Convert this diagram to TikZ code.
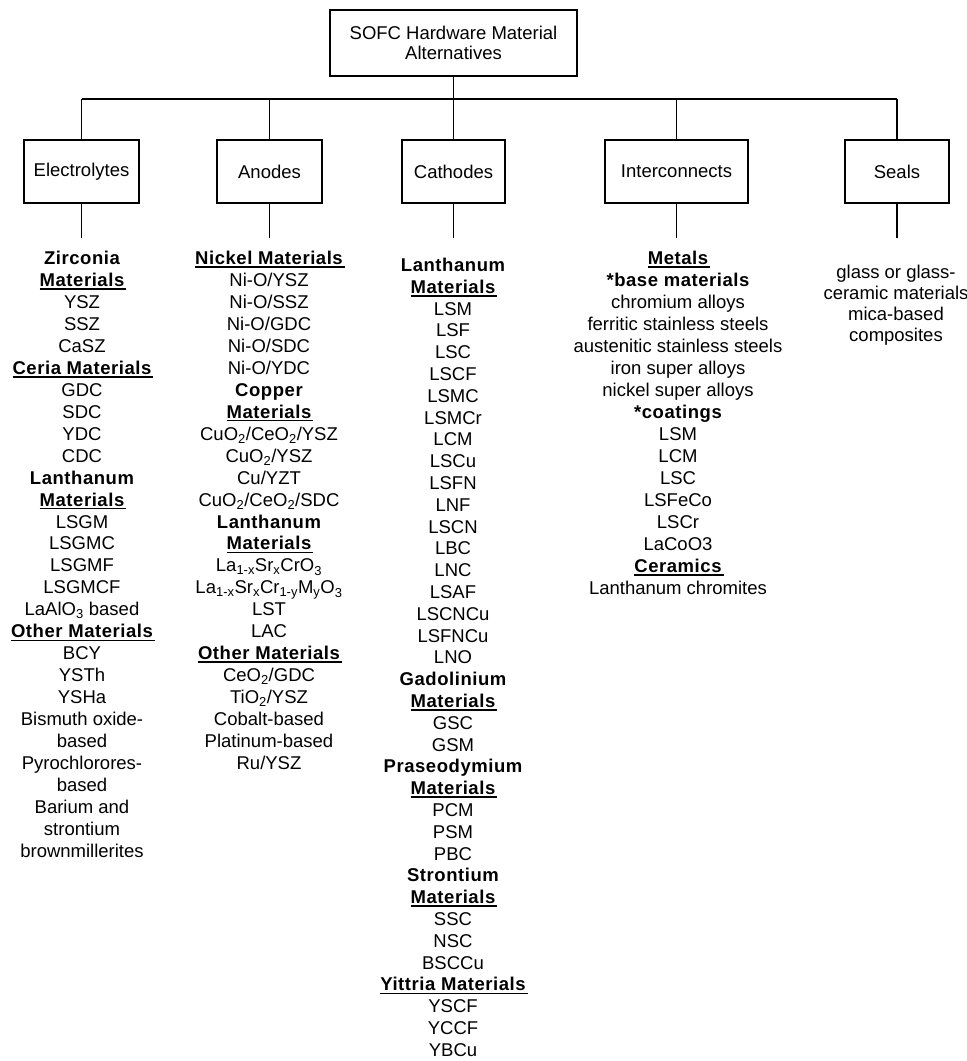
\documentclass[tikz,border=0pt]{standalone}
\usepackage{fontspec}
\setmainfont{Liberation Sans}
\newfontfamily\hdfont{Liberation Sans}[LetterSpace=3]
\newcommand\hb[1]{{\hdfont\bfseries #1}}
\newcommand\hu[1]{\setbox0\hbox{\hdfont\bfseries #1}\rlap{\rule[-3.2pt]{\dimexpr\wd0+2pt\relax}{1.5pt}}\box0}
\newcommand\sub[1]{\textsubscript{#1}}
\begin{document}
\begin{tikzpicture}[x=1pt,y=-1pt,line width=1.5pt,
  every node/.style={font=\fontsize{18.5}{20}\selectfont},
  box/.style={draw,inner sep=0pt,align=center},
  catbox/.style={box,minimum height=63pt},
  item/.style={anchor=base,inner sep=0pt}]
\useasboundingbox (0,0) rectangle (967,1061);

\node[box,minimum width=247pt,minimum height=66pt] (top) at (453.5,43) {SOFC Hardware Material\\Alternatives};

\node[catbox,minimum width=115pt] (elec)  at (81.5,171.5) {Electrolytes};
\node[catbox,minimum width=105pt] (anod)  at (269.5,171.5) {Anodes};
\node[catbox,minimum width=103pt] (cath)  at (453.5,171.5) {Cathodes};
\node[catbox,minimum width=143pt] (inter) at (676.5,171.5) {Interconnects};
\node[catbox,minimum width=104pt] (seals) at (897,171.5) {Seals};

\coordinate (bar) at (453.5,99);
\coordinate (stemend) at (0,238);
\draw (top.south) -- (top.south |- bar);
\draw (elec.north |- bar) -- (seals.north |- bar);
\foreach \n in {elec,anod,cath,inter,seals}{
  \draw (\n.north |- bar) -- (\n.north);
  \draw (\n.south) -- (\n.south |- stemend);
}

% Electrolytes
\foreach \t [count=\i from 0] in {\hb{Zirconia},\hu{Materials},YSZ,SSZ,CaSZ,\hu{Ceria Materials},GDC,SDC,YDC,CDC,\hb{Lanthanum},\hu{Materials},LSGM,LSGMC,LSGMF,LSGMCF,LaAlO\sub{3} based,\hu{Other Materials},BCY,YSTh,YSHa,Bismuth oxide-,based,Pyrochlorores-,based,Barium and,strontium,brownmillerites}
  \node[item] (el\i) at ({82},{264.5+\i*21.96}) {\t};

% Anodes
\foreach \t [count=\i from 0] in {\hu{Nickel Materials},Ni-O/YSZ,Ni-O/SSZ,Ni-O/GDC,Ni-O/SDC,Ni-O/YDC,\hb{Copper},\hu{Materials},CuO\sub{2}/CeO\sub{2}/YSZ,CuO\sub{2}/YSZ,Cu/YZT,CuO\sub{2}/CeO\sub{2}/SDC,\hb{Lanthanum},\hu{Materials},La\sub{1-x}Sr\sub{x}CrO\sub{3},La\sub{1-x}Sr\sub{x}Cr\sub{1-y}M\sub{y}O\sub{3},LST,LAC,\hu{Other Materials},CeO\sub{2}/GDC,TiO\sub{2}/YSZ,Cobalt-based,Platinum-based,Ru/YSZ}
  \node[item] (an\i) at ({269},{264.5+\i*21.96}) {\t};

% Cathodes
\foreach \t [count=\i from 0] in {\hb{Lanthanum},\hu{Materials},LSM,LSF,LSC,LSCF,LSMC,LSMCr,LCM,LSCu,LSFN,LNF,LSCN,LBC,LNC,LSAF,LSCNCu,LSFNCu,LNO,\hb{Gadolinium},\hu{Materials},GSC,GSM,\hb{Praseodymium},\hu{Materials},PCM,PSM,PBC,\hb{Strontium},\hu{Materials},SSC,NSC,BSCCu,\hu{Yittria Materials},YSCF,YCCF,YBCu}
  \node[item] (ca\i) at ({453},{271.5+\i*21.8}) {\t};

% Interconnects
\foreach \t [count=\i from 0] in {\hu{Metals},\hb{*base materials},chromium alloys,ferritic stainless steels,austenitic stainless steels,iron super alloys,nickel super alloys,\hb{*coatings},LSM,LCM,LSC,LSFeCo,LSCr,LaCoO3,\hu{Ceramics},Lanthanum chromites}
  \node[item] (ic\i) at ({678},{264.5+\i*22}) {\t};

% Seals
\foreach \t [count=\i from 0] in {glass or glass-,ceramic materials,mica-based,composites}
  \node[item] (se\i) at ({896},{278+\i*21}) {\t};
\end{tikzpicture}
\end{document}
